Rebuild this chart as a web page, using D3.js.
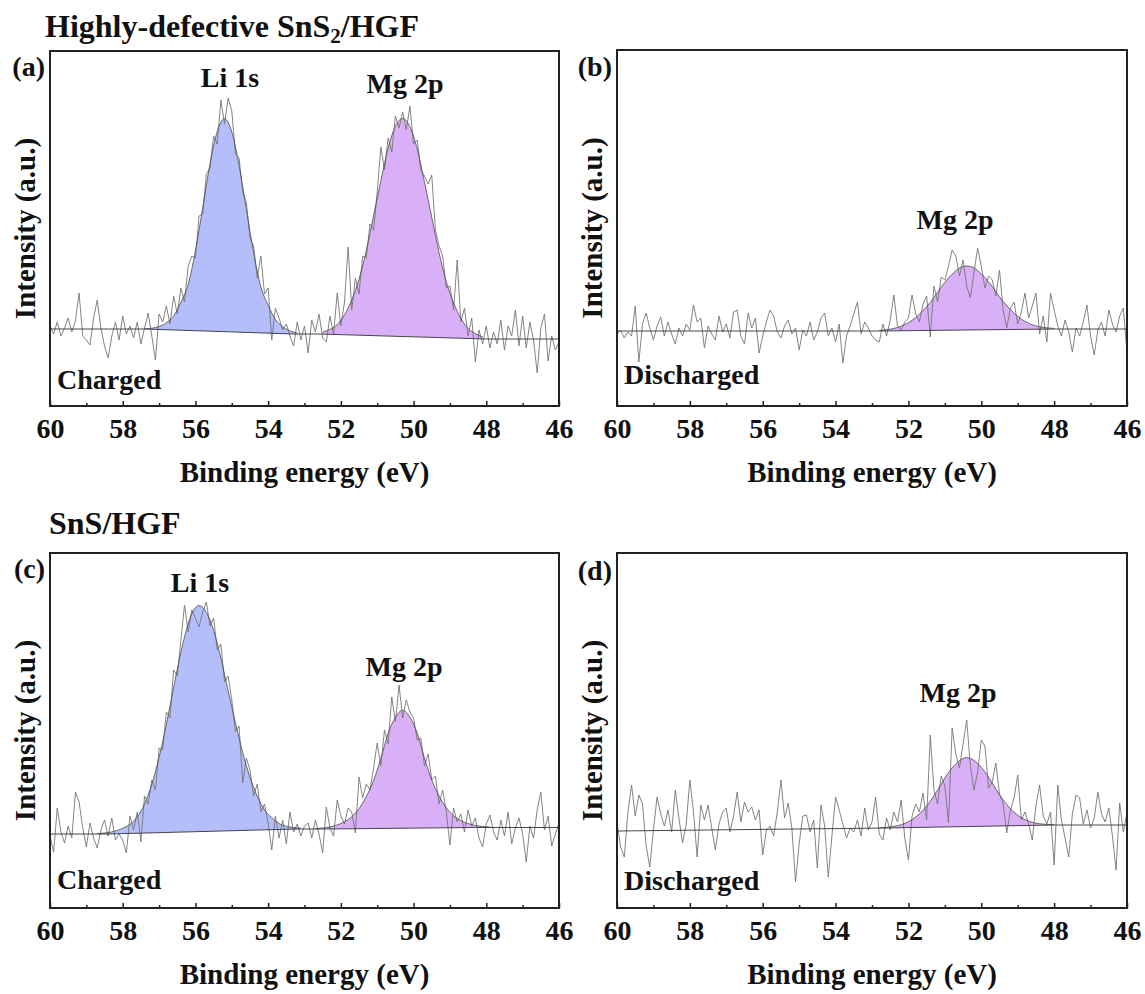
<!DOCTYPE html>
<html><head><meta charset="utf-8">
<script src="https://cdn.jsdelivr.net/npm/d3@7"></script>
<style>
body{margin:0;background:#fff}
svg text{font-family:"Liberation Serif","Times New Roman",Tinos,"DejaVu Serif","Noto Serif",serif !important;font-weight:bold;fill:#111}
</style>
</head><body>
<svg id="chart" width="1145" height="994"></svg>
<script>
// ---------- data ----------
const majorTicks = [60, 58, 56, 54, 52, 50, 48, 46];
const minorTicks = [59, 57, 55, 53, 51, 49, 47];
// raw spectra sampled from 60.0 eV to 46.0 eV every 0.1 eV (intensity, a.u.)
const energyGrid = d3.range(0, 141).map(i => +(60 - i * 0.1).toFixed(1));

const rawA = [80,72,84,70,78,88,74,85,113,70,
66,61,88,106,78,60,48,70,84,66,
90,72,80,68,84,62,78,93,70,46,
92,84,100,82,110,92,118,104,140,150,
148,190,192,232,238,270,262,306,282,308,
295,252,248,214,204,168,160,128,150,112,
118,66,98,88,76,82,70,60,84,66,
80,53,86,74,92,68,64,90,72,113,
80,104,159,96,128,112,150,148,182,176,
214,259,236,268,254,290,278,294,276,300,
262,266,236,230,222,231,176,160,150,118,
120,96,146,84,98,70,88,44,76,62,
80,58,74,62,86,56,80,70,96,60,
90,58,84,66,33,78,92,45,70,56,
64];
const rawB = [72,76,68,74,70,100,44,82,93,78,
66,80,89,70,84,72,62,78,70,82,
76,101,84,88,58,80,72,66,90,74,
82,68,94,96,70,62,93,78,88,53,
70,84,96,90,74,68,80,86,72,78,
56,76,70,84,66,74,88,93,70,78,
64,82,43,70,80,92,104,72,84,78,
70,66,64,82,70,86,111,80,76,84,
88,111,92,84,102,110,69,120,104,129,
126,140,156,150,130,146,120,108,134,158,
140,118,130,126,110,136,96,78,98,104,
82,94,113,88,100,113,72,90,64,113,
96,80,70,86,74,54,78,70,84,101,
70,51,76,84,70,96,82,74,90,98,
53];
const rawC = [72,56,100,76,65,82,70,116,106,80,
61,85,70,60,78,88,72,90,68,74,
68,55,92,78,96,66,112,104,128,118,
160,158,196,190,238,232,268,303,276,298,
290,281,296,306,282,290,258,264,226,232,
208,176,182,125,150,138,112,124,96,104,
85,58,92,70,88,64,96,76,84,72,
82,85,70,88,74,55,101,80,72,108,
92,84,100,96,75,131,110,124,118,140,
165,142,178,164,211,186,223,190,208,196,
190,168,170,142,154,128,132,104,118,96,
63,100,86,94,76,98,82,90,70,61,
84,93,76,68,88,72,96,64,80,90,
74,46,82,70,98,116,78,92,62,74,
85];
const rawD = [85,61,51,96,123,92,113,104,62,41,
78,111,94,82,98,76,118,90,65,84,
128,96,51,103,88,103,80,58,84,96,
100,76,92,116,86,106,96,101,88,98,
53,78,82,72,96,128,90,105,80,26,
64,92,93,76,88,40,103,82,31,72,
111,98,84,70,80,76,88,72,100,78,
86,111,74,68,90,78,96,86,108,70,
48,92,104,96,115,88,173,118,104,132,
122,85,180,154,140,164,188,142,118,136,
168,162,120,126,145,114,104,75,98,110,
133,88,96,84,68,102,123,92,84,96,
43,123,88,70,51,94,113,110,84,98,
80,90,116,94,86,100,72,38,105,76,
95];

// backgrounds
const bgA_E = [60, 57.4, 53.3, 52.6, 48.0, 46]; const bgA_H = [77, 77, 72, 72, 67, 67];
const bgB_E = [60, 52.8, 48.0, 46];             const bgB_H = [75, 75, 77, 77];
const bgC_E = [60, 58.4, 53.2, 52.4, 48.3, 46]; const bgC_H = [74, 74, 79, 79, 80.5, 80.5];
const bgD_E = [60, 52.6, 48.0, 46];             const bgD_H = [77, 80, 83, 83];

// fitted components (height above background)
const liA_E = [57.4,57.2,57.0,56.8,56.6,56.4,56.2,56.0,55.8,55.6,55.4,55.2,55.0,54.8,54.6,54.4,54.2,54.0,53.8,53.6,53.4,53.2];
const liA_H = [0.3,1,3,7,14,28,46,80,123,167,200,213,200,167,123,80,46,28,14,7,3,1];
const mgA_E = [52.5,52.3,52.1,51.9,51.7,51.5,51.3,51.1,50.9,50.7,50.5,50.3,50.1,49.9,49.7,49.5,49.3,49.1,48.9,48.7,48.5,48.3,48.1];
const mgA_H = [2,5,10,20,35,56,85,120,155,188,210,218,210,188,155,120,85,56,35,20,10,5,2];

const mgB_E = [52.8,52.6,52.4,52.2,52.0,51.8,51.6,51.4,51.2,51.0,50.8,50.6,50.4,50.2,50.0,49.8,49.6,49.4,49.2,49.0,48.8,48.6,48.4,48.2,48.0];
const mgB_H = [0.6,1.2,2.4,4.5,8,13,20,28,38,48,56,62,64,62,56,48,38,28,20,13,8,4.5,2.4,1.2,0.6];

const liC_E = [58.7,58.5,58.3,58.1,57.9,57.7,57.5,57.3,57.1,56.9,56.7,56.5,56.3,56.1,55.9,55.7,55.5,55.3,55.1,54.9,54.7,54.5,54.3,54.1,53.9,53.7,53.5,53.3,53.1];
const liC_H = [0.3,1,2,4,7,12,22,38,61,91,126,163,195,218,226,219,201,173,140,108,78,53,34,20,12,6,3,1.5,0.7];
const mgC_E = [52.7,52.5,52.3,52.1,51.9,51.7,51.5,51.3,51.1,50.9,50.7,50.5,50.3,50.1,49.9,49.7,49.5,49.3,49.1,48.9,48.7,48.5,48.3,48.1,47.9];
const mgC_H = [0.4,1,2,4,7,12,20,32,48,70,95,111,118,111,95,70,48,32,20,12,7,4,2,1,0.4];

const mgD_E = [52.8,52.6,52.4,52.2,52.0,51.8,51.6,51.4,51.2,51.0,50.8,50.6,50.4,50.2,50.0,49.8,49.6,49.4,49.2,49.0,48.8,48.6,48.4,48.2,48.0];
const mgD_H = [0.3,0.65,1.5,3,5.9,10.4,17,26,37,49,59,66,69,66,59,49,37,26,17,10.4,5.9,3,1.5,0.65,0.3];

// ---------- style ----------
const FONT = "'Liberation Serif', 'Times New Roman', Tinos, 'DejaVu Serif', 'Noto Serif', serif";
const LI_FILL = "#b4befa";
const MG_FILL = "#d9b0f7";
const RAW_COLOR = "#767676";
const FIT_COLOR = "#4a4a4a";
const FRAME = "#222";

const svg = d3.select("#chart").attr("font-family", FONT).attr("font-weight", "bold");

function txt(sel) {
  return sel.append("text").attr("font-family", FONT).attr("font-weight", "bold").attr("fill", "#111");
}

const panels = [
  {x0:50, x1:559, y0:51, y1:406, raw:rawA, bgE:bgA_E, bgH:bgA_H,
   comps:[{E:liA_E,H:liA_H,fill:LI_FILL},{E:mgA_E,H:mgA_H,fill:MG_FILL}],
   tag:"(a)", tagY:76, state:"Charged", stateY:389,
   peaks:[{t:"Li 1s",x:230,y:87},{t:"Mg 2p",x:405,y:93}]},
  {x0:617, x1:1127, y0:50, y1:406, raw:rawB, bgE:bgB_E, bgH:bgB_H,
   comps:[{E:mgB_E,H:mgB_H,fill:MG_FILL}],
   tag:"(b)", tagY:76, state:"Discharged", stateY:384,
   peaks:[{t:"Mg 2p",x:955,y:229}]},
  {x0:50, x1:559, y0:553, y1:908, raw:rawC, bgE:bgC_E, bgH:bgC_H,
   comps:[{E:liC_E,H:liC_H,fill:LI_FILL},{E:mgC_E,H:mgC_H,fill:MG_FILL}],
   tag:"(c)", tagY:578, state:"Charged", stateY:889,
   peaks:[{t:"Li 1s",x:200,y:592},{t:"Mg 2p",x:404,y:676}]},
  {x0:617, x1:1127, y0:553, y1:908, raw:rawD, bgE:bgD_E, bgH:bgD_H,
   comps:[{E:mgD_E,H:mgD_H,fill:MG_FILL}],
   tag:"(d)", tagY:580, state:"Discharged", stateY:890,
   peaks:[{t:"Mg 2p",x:958,y:702}]}
];

panels.forEach((p, k) => {
  const x = d3.scaleLinear().domain([60, 46]).range([p.x0, p.x1]);
  const y = d3.scaleLinear().domain([0, 355]).range([p.y1, p.y1 - 355]);
  const bg = d3.scaleLinear().domain(p.bgE).range(p.bgH);

  const clipId = "clip" + k;
  svg.append("clipPath").attr("id", clipId).append("rect")
    .attr("x", p.x0).attr("y", p.y0).attr("width", p.x1 - p.x0).attr("height", p.y1 - p.y0);
  const g = svg.append("g").attr("clip-path", `url(#${clipId})`);

  p.comps.forEach(c => {
    const pts = c.E.map((e, i) => ({e, b: bg(e), h: c.H[i]}));
    g.append("path").datum(pts)
      .attr("d", d3.area().x(d => x(d.e)).y0(d => y(d.b)).y1(d => y(d.b + d.h)).curve(d3.curveMonotoneX))
      .attr("fill", c.fill).attr("stroke", "none");
  });

  g.append("path").datum(p.raw)
    .attr("d", d3.line().x((d, i) => x(energyGrid[i])).y(d => y(d)))
    .attr("fill", "none").attr("stroke", RAW_COLOR).attr("stroke-width", 0.9);

  p.comps.forEach(c => {
    const pts = c.E.map((e, i) => ({e, v: bg(e) + c.H[i]}));
    g.append("path").datum(pts)
      .attr("d", d3.line().x(d => x(d.e)).y(d => y(d.v)).curve(d3.curveMonotoneX))
      .attr("fill", "none").attr("stroke", FIT_COLOR).attr("stroke-width", 0.8);
  });

  g.append("path").datum(p.bgE.map((e, i) => ({e, v: p.bgH[i]})))
    .attr("d", d3.line().x(d => x(d.e)).y(d => y(d.v)))
    .attr("fill", "none").attr("stroke", "#333").attr("stroke-width", 0.9);

  svg.append("rect").attr("x", p.x0).attr("y", p.y0)
    .attr("width", p.x1 - p.x0).attr("height", p.y1 - p.y0)
    .attr("fill", "none").attr("stroke", FRAME).attr("stroke-width", 2);

  const ax = svg.append("g").attr("transform", `translate(0,${p.y1})`)
    .call(d3.axisBottom(x).tickValues(majorTicks).tickSizeInner(-5).tickSizeOuter(0)
      .tickPadding(12).tickFormat(d3.format("d")));
  ax.attr("font-family", FONT).attr("font-size", 28).attr("font-weight", "bold");
  ax.select(".domain").remove();
  ax.selectAll("line").attr("stroke", FRAME).attr("stroke-width", 1.5);
  ax.selectAll("text").attr("font-family", FONT).attr("font-size", 28).attr("font-weight", "bold").attr("fill", "#111");

  const mx = svg.append("g").attr("transform", `translate(0,${p.y1})`)
    .call(d3.axisBottom(x).tickValues(minorTicks).tickSizeInner(-3).tickSizeOuter(0).tickFormat(""));
  mx.select(".domain").remove();
  mx.selectAll("line").attr("stroke", FRAME).attr("stroke-width", 1.5);

  txt(svg).attr("x", (p.x0 + p.x1) / 2).attr("y", p.y1 + 76)
    .attr("text-anchor", "middle").attr("font-size", 29).text("Binding energy (eV)");
  txt(svg).attr("transform", `translate(${p.x0 - 15},${(p.y0 + p.y1) / 2}) rotate(-90)`)
    .attr("text-anchor", "middle").attr("font-size", 29).text("Intensity (a.u.)");

  txt(svg).attr("x", p.x0 - 5).attr("y", p.tagY)
    .attr("text-anchor", "end").attr("font-size", 28).text(p.tag);
  txt(svg).attr("x", p.x0 + 7).attr("y", p.stateY)
    .attr("font-size", 28).text(p.state);
  p.peaks.forEach(pk => {
    txt(svg).attr("x", pk.x).attr("y", pk.y)
      .attr("text-anchor", "middle").attr("font-size", 28).text(pk.t);
  });
});

const t1 = txt(svg).attr("x", 45).attr("y", 37).attr("font-size", 32);
t1.append("tspan").text("Highly-defective SnS");
t1.append("tspan").attr("font-size", 21).attr("dy", 6).text("2");
t1.append("tspan").attr("dy", -6).text("/HGF");
txt(svg).attr("x", 49).attr("y", 534).attr("font-size", 32).text("SnS/HGF");
</script>
</body></html>
